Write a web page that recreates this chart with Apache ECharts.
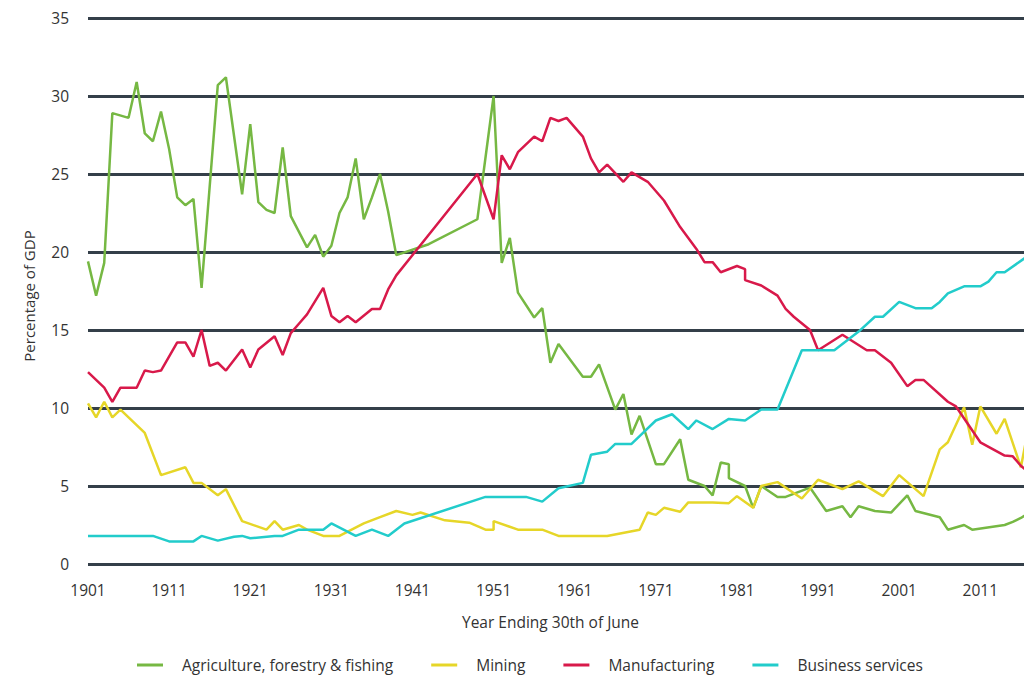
<!DOCTYPE html>
<html>
<head>
<meta charset="utf-8">
<script src="https://cdn.jsdelivr.net/npm/echarts@6/dist/echarts.min.js"></script>
<style>
  html, body { margin: 0; padding: 0; background: #fff; }
  #chart { width: 1024px; height: 676px; }
</style>
</head>
<body>
<div id="chart"></div>
<script>
// years on the x axis, 1901 to 2017
const years = [];
for (let y = 1901; y <= 2017; y++) years.push(String(y));

const seriesNames = ['Agriculture, forestry & fishing', 'Mining', 'Manufacturing', 'Business services'];

// [year, % of GDP]
const agriculture = [
    [1901, 19.4], [1902, 17.2], [1903, 19.3], [1904, 28.9], [1906, 28.6], [1907, 30.9],
    [1908, 27.6], [1909, 27.1], [1910, 29.0], [1911, 26.6], [1912, 23.5], [1913, 23.0],
    [1914, 23.4], [1915, 17.7], [1917, 30.7], [1918, 31.2], [1920, 23.7], [1921, 28.2],
    [1922, 23.2], [1923, 22.7], [1924, 22.5], [1925, 26.7], [1926, 22.3], [1928, 20.3],
    [1929, 21.1], [1930, 19.7], [1931, 20.4], [1932, 22.5], [1933, 23.5], [1934, 26.0],
    [1935, 22.1], [1936, 23.5], [1937, 25.0], [1938, 22.6], [1939, 19.8], [1943, 20.5],
    [1949, 22.1], [1951, 30.0], [1952, 19.3], [1953, 20.9], [1954, 17.4], [1956, 15.8],
    [1957, 16.4], [1958, 12.9], [1959, 14.1], [1962, 12.0], [1963, 12.0], [1964, 12.8],
    [1966, 9.9], [1967, 10.9], [1968, 8.3], [1969, 9.5], [1971, 6.4], [1972, 6.4],
    [1974, 8.0], [1975, 5.4], [1977, 5.0], [1978, 4.4], [1979, 6.5], [1980, 6.4],
    [1980, 5.5], [1982, 5.0], [1983, 3.6], [1984, 5.0], [1986, 4.3], [1987, 4.3],
    [1990, 4.9], [1992, 3.4], [1994, 3.7], [1995, 3.0], [1996, 3.7], [1998, 3.4],
    [2000, 3.3], [2002, 4.4], [2003, 3.4], [2006, 3.0], [2007, 2.2], [2009, 2.5],
    [2010, 2.2], [2014, 2.5], [2015, 2.7], [2016, 2.95], [2017, 3.3]
];

const mining = [
    [1901, 10.3], [1902, 9.4], [1903, 10.4], [1904, 9.4], [1905, 9.9], [1908, 8.4],
    [1910, 5.7], [1913, 6.2], [1914, 5.2], [1915, 5.2], [1917, 4.4], [1918, 4.8],
    [1920, 2.75], [1923, 2.2], [1924, 2.75], [1925, 2.2], [1927, 2.5], [1928, 2.2],
    [1930, 1.8], [1932, 1.8], [1935, 2.6], [1937, 3.0], [1939, 3.4], [1941, 3.15],
    [1942, 3.3], [1945, 2.8], [1948, 2.65], [1950, 2.2], [1951, 2.2], [1951, 2.75],
    [1954, 2.2], [1957, 2.2], [1959, 1.8], [1965, 1.8], [1969, 2.2], [1970, 3.3],
    [1971, 3.15], [1972, 3.6], [1974, 3.35], [1975, 3.95], [1978, 3.95], [1980, 3.9],
    [1981, 4.35], [1983, 3.6], [1984, 5.0], [1986, 5.25], [1989, 4.2], [1991, 5.4],
    [1994, 4.8], [1996, 5.3], [1999, 4.35], [2001, 5.7], [2004, 4.35], [2006, 7.35],
    [2007, 7.8], [2009, 10.05], [2010, 7.65], [2011, 10.1], [2013, 8.35], [2014, 9.3],
    [2016, 6.2], [2017, 8.9]
];

const manufacturing = [
    [1901, 12.3], [1903, 11.3], [1904, 10.4], [1905, 11.3], [1907, 11.3], [1908, 12.4],
    [1909, 12.3], [1910, 12.4], [1912, 14.2], [1913, 14.2], [1914, 13.3], [1915, 15.0],
    [1916, 12.7], [1917, 12.9], [1918, 12.4], [1920, 13.75], [1921, 12.6], [1922, 13.75],
    [1924, 14.6], [1925, 13.4], [1926, 14.8], [1927, 15.4], [1928, 16.0], [1930, 17.7],
    [1931, 15.9], [1932, 15.5], [1933, 15.9], [1934, 15.5], [1936, 16.35], [1937, 16.35],
    [1938, 17.6], [1939, 18.5], [1949, 25.0], [1951, 22.1], [1952, 26.2], [1953, 25.3],
    [1954, 26.4], [1956, 27.4], [1957, 27.1], [1958, 28.6], [1959, 28.4], [1960, 28.6],
    [1962, 27.4], [1963, 26.0], [1964, 25.1], [1965, 25.6], [1967, 24.5], [1968, 25.1],
    [1970, 24.5], [1972, 23.3], [1974, 21.6], [1976, 20.2], [1977, 19.35], [1978, 19.35],
    [1979, 18.7], [1981, 19.1], [1982, 18.9], [1982, 18.2], [1984, 17.85], [1986, 17.2],
    [1987, 16.35], [1988, 15.85], [1990, 15.0], [1991, 13.7], [1994, 14.7], [1997, 13.7],
    [1998, 13.7], [2000, 12.9], [2002, 11.4], [2003, 11.8], [2004, 11.8], [2007, 10.4],
    [2008, 10.1], [2011, 7.8], [2014, 6.95], [2015, 6.9], [2016, 6.3], [2017, 5.85]
];

const businessServices = [
    [1901, 1.8], [1909, 1.8], [1911, 1.45], [1914, 1.45], [1915, 1.8], [1917, 1.5],
    [1919, 1.75], [1920, 1.8], [1921, 1.65], [1924, 1.8], [1925, 1.8], [1927, 2.2],
    [1930, 2.2], [1931, 2.6], [1934, 1.8], [1936, 2.2], [1938, 1.8], [1940, 2.6],
    [1950, 4.3], [1955, 4.3], [1957, 4.0], [1959, 4.85], [1962, 5.2], [1963, 7.0],
    [1965, 7.2], [1966, 7.7], [1968, 7.7], [1969, 8.2], [1971, 9.2], [1973, 9.6],
    [1975, 8.65], [1976, 9.2], [1978, 8.65], [1980, 9.3], [1982, 9.2], [1984, 9.9],
    [1986, 9.9], [1989, 13.7], [1993, 13.7], [1996, 14.9], [1998, 15.85], [1999, 15.85],
    [2001, 16.8], [2003, 16.4], [2005, 16.4], [2006, 16.8], [2007, 17.35], [2009, 17.8],
    [2011, 17.8], [2012, 18.1], [2013, 18.7], [2014, 18.7], [2017, 19.8]
];

const colors = ['#76b843', '#e6d628', '#d8194a', '#22cccb'];

const toPoints = function (pairs) {
    return pairs.map(function (p) { return [String(p[0]), p[1]]; });
};

const chart = echarts.init(document.getElementById('chart'), null, { renderer: 'svg' });

const textColor = '#333333';
const font = '"Open Sans", "Noto Sans", sans-serif';

const option = {
    animation: false,
    color: colors,
    textStyle: { fontFamily: font },
    // the plot runs a few pixels past the right edge, as in the original
    grid: { left: 88, right: -5, top: 18, bottom: 112, outerBoundsMode: 'none' },
    legend: {
        data: seriesNames,
        left: 137,
        top: 657,
        padding: 0,
        icon: 'rect',
        itemWidth: 26,
        itemHeight: 3,
        itemGap: 38,
        textStyle: { fontSize: 15.5, color: textColor, fontFamily: font, padding: [0, 0, 0, 14] }
    },
    xAxis: {
        type: 'category',
        data: years,
        boundaryGap: false,
        name: 'Year Ending 30th of June',
        nameLocation: 'middle',
        nameGap: 50,
        nameTextStyle: { fontSize: 15.5, color: textColor, fontFamily: font, padding: [0, 16, 0, 0] },
        axisLine: { show: false },
        axisTick: { show: false },
        axisLabel: { interval: 9, fontSize: 15.5, color: textColor, margin: 18, fontFamily: font },
        splitLine: { show: false }
    },
    yAxis: {
        type: 'value',
        min: 0,
        max: 35,
        interval: 5,
        name: 'Percentage of GDP',
        nameLocation: 'middle',
        nameGap: 52,
        nameTextStyle: { fontSize: 15, color: textColor, fontFamily: font, padding: [0, 10, 0, 0] },
        axisLine: { show: false },
        axisTick: { show: false },
        axisLabel: { fontSize: 15.5, color: textColor, margin: 19, fontFamily: font },
        splitLine: { lineStyle: { color: '#343f49', width: 3 } }
    },
    series: [
        { name: seriesNames[0], type: 'line', data: toPoints(agriculture) },
        { name: seriesNames[1], type: 'line', data: toPoints(mining) },
        { name: seriesNames[2], type: 'line', data: toPoints(manufacturing) },
        { name: seriesNames[3], type: 'line', data: toPoints(businessServices) }
    ].map(function (s) {
        s.symbol = 'none';
        s.lineStyle = { width: 2.5 };
        return s;
    })
};

chart.setOption(option);
</script>
</body>
</html>
